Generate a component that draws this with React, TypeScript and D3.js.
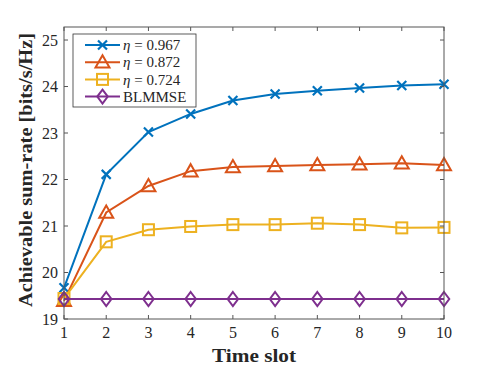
import React from "react";
import * as d3 from "d3";

const width = 491;
const height = 368;
const margin = { top: 27, right: 47, bottom: 49, left: 64 };

const slots = [1, 2, 3, 4, 5, 6, 7, 8, 9, 10];
const eta967 = [19.67, 22.11, 23.02, 23.41, 23.7, 23.84, 23.91, 23.97, 24.02, 24.05];
const eta872 = [19.39, 21.29, 21.86, 22.18, 22.27, 22.29, 22.31, 22.33, 22.35, 22.31];
const eta724 = [19.44, 20.66, 20.92, 20.99, 21.03, 21.03, 21.06, 21.03, 20.96, 20.97];
const blmmse = [19.43, 19.43, 19.43, 19.43, 19.43, 19.43, 19.43, 19.43, 19.43, 19.43];
const yTicks = [19, 20, 21, 22, 23, 24, 25];

const series = [
  { name: "\u03b7 = 0.967", values: eta967, color: "#0072BD", marker: "x" },
  { name: "\u03b7 = 0.872", values: eta872, color: "#D95319", marker: "tri" },
  { name: "\u03b7 = 0.724", values: eta724, color: "#EDB120", marker: "sq" },
  { name: "BLMMSE", values: blmmse, color: "#7E2F8E", marker: "dia" },
];

const font = "'Liberation Serif', 'Times New Roman', serif";
const axisColor = "#555";

function Marker({ type, x, y, color }) {
  if (type === "x") {
    const s = 4.5;
    return (
      <path
        d={`M${x - s},${y - s}L${x + s},${y + s}M${x - s},${y + s}L${x + s},${y - s}`}
        stroke={color}
        strokeWidth={2.2}
        fill="none"
      />
    );
  }
  if (type === "tri") {
    const s = 7;
    return (
      <path
        d={`M${x},${y - s}L${x + s},${y + s * 0.75}L${x - s},${y + s * 0.75}Z`}
        stroke={color}
        strokeWidth={2}
        fill="none"
      />
    );
  }
  if (type === "sq") {
    const s = 5.5;
    return (
      <rect x={x - s} y={y - s} width={2 * s} height={2 * s} stroke={color} strokeWidth={2} fill="none" />
    );
  }
  const s = 7;
  return (
    <path
      d={`M${x},${y - s}L${x + s * 0.75},${y}L${x},${y + s}L${x - s * 0.75},${y}Z`}
      stroke={color}
      strokeWidth={2}
      fill="none"
    />
  );
}

export default function App() {
  const x = d3.scaleLinear().domain([1, 10]).range([margin.left, width - margin.right]);
  const y = d3.scaleLinear().domain([19, 25.28]).range([height - margin.bottom, margin.top]);
  const line = d3
    .line()
    .x((d) => x(d[0]))
    .y((d) => y(d[1]));

  const x0 = margin.left;
  const x1 = width - margin.right;
  const y0 = height - margin.bottom;
  const y1 = margin.top;

  const legend = { x: 73, y: 34, w: 123, h: 73 };

  return (
    <svg
      width={width}
      height={height}
      style={{ position: "absolute", left: 0, top: 0, background: "#fff" }}
      fontFamily={font}
    >
      {series.map((s) => (
        <g key={s.name}>
          <path
            d={line(s.values.map((v, i) => [slots[i], v]))}
            stroke={s.color}
            strokeWidth={2}
            fill="none"
          />
          {s.values.map((v, i) => (
            <Marker key={i} type={s.marker} x={x(slots[i])} y={y(v)} color={s.color} />
          ))}
        </g>
      ))}

      {/* box */}
      <rect x={x0} y={y1} width={x1 - x0} height={y0 - y1} fill="none" stroke={axisColor} strokeWidth={1} />
      {slots.map((t) => (
        <g key={t}>
          <line x1={x(t)} x2={x(t)} y1={y0} y2={y0 - 4} stroke={axisColor} />
          <line x1={x(t)} x2={x(t)} y1={y1} y2={y1 + 4} stroke={axisColor} />
          <text x={x(t)} y={y0 + 19} textAnchor="middle" fontSize={16} fill="#262626">
            {t}
          </text>
        </g>
      ))}
      {yTicks.map((t) => (
        <g key={t}>
          <line x1={x0} x2={x0 + 4} y1={y(t)} y2={y(t)} stroke={axisColor} />
          <line x1={x1} x2={x1 - 4} y1={y(t)} y2={y(t)} stroke={axisColor} />
          <text x={x0 - 6} y={y(t)} dy="0.35em" textAnchor="end" fontSize={16} fill="#262626">
            {t}
          </text>
        </g>
      ))}

      <text
        x={(x0 + x1) / 2}
        y={y0 + 43}
        textAnchor="middle"
        fontSize={18}
        fontWeight="bold"
        fill="#262626"
        textLength={84}
        lengthAdjust="spacingAndGlyphs"
      >
        Time slot
      </text>
      <text
        transform={`translate(26, 170) rotate(-90)`}
        textAnchor="middle"
        dy="0.35em"
        fontSize={18}
        fontWeight="bold"
        fill="#262626"
        textLength={274}
        lengthAdjust="spacingAndGlyphs"
      >
        Achievable sum-rate [bits/s/Hz]
      </text>

      {/* legend */}
      <rect x={legend.x} y={legend.y} width={legend.w} height={legend.h} fill="#fff" stroke="#333" strokeWidth={0.8} />
      {series.map((s, i) => {
        const ly = 45 + i * 17.2;
        return (
          <g key={s.name}>
            <line x1={85} x2={120} y1={ly} y2={ly} stroke={s.color} strokeWidth={2} />
            <Marker type={s.marker} x={102.5} y={ly} color={s.color} />
            <text x={123} y={ly} dy="0.35em" fontSize={15} fill="#262626">
              {s.marker === "dia" ? (
                s.name
              ) : (
                <>
                  <tspan fontStyle="italic">{"\u03b7"}</tspan>
                  {" = " + s.name.split("= ")[1]}
                </>
              )}
            </text>
          </g>
        );
      })}
    </svg>
  );
}
